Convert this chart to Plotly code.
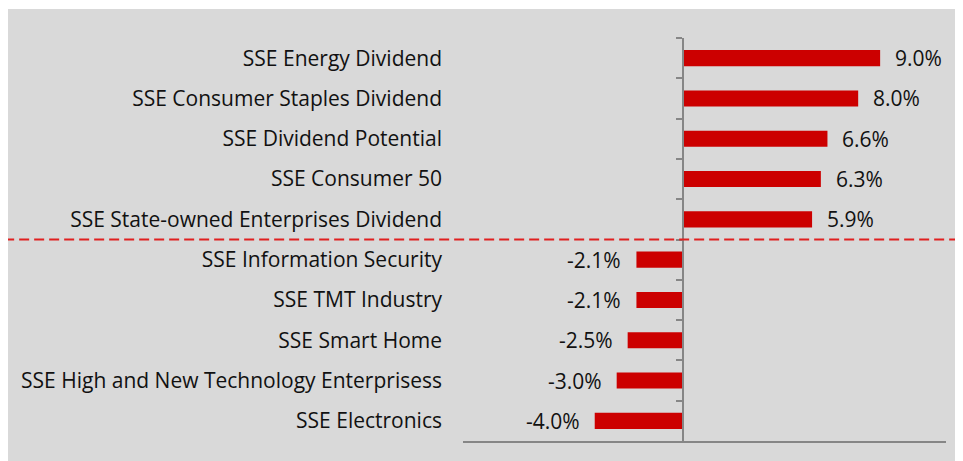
import plotly.graph_objects as go

indices = ["SSE Energy Dividend", "SSE Consumer Staples Dividend", "SSE Dividend Potential",
           "SSE Consumer 50", "SSE State-owned Enterprises Dividend", "SSE Information Security",
           "SSE TMT Industry", "SSE Smart Home", "SSE High and New Technology Enterprisess",
           "SSE Electronics"]
returns = [9.0, 8.0, 6.6, 6.3, 5.9, -2.1, -2.1, -2.5, -3.0, -4.0]

red = '#cc0000'
grey = '#868686'
font = dict(family='Open Sans', size=21, color='#111111')

fig = go.Figure()
fig.add_trace(go.Bar(x=returns, y=indices, orientation='h', width=0.4,
                     marker=dict(color=red, line=dict(width=0)), yaxis='y', showlegend=False))
# invisible trace so the second axis (category labels at the left edge) renders
fig.add_trace(go.Scatter(x=[0] * len(indices), y=indices, mode='markers', opacity=0,
                         yaxis='y2', showlegend=False, hoverinfo='skip'))

# value labels outside the bars
for name, v in zip(indices, returns):
    fig.add_annotation(x=v, y=name, text=f"{v:.1f}%", showarrow=False, font=font,
                       xanchor='left' if v > 0 else 'right', xshift=13 if v > 0 else -13)

# the red dashed separator between gainers and losers
fig.add_shape(type='line', xref='paper', yref='y', x0=-0.95, x1=1.06, y0=4.5, y1=4.5,
              line=dict(color='#e02020', width=2, dash='10px,5px'))
# grey panel background
fig.add_shape(type='rect', xref='paper', yref='paper', x0=-0.95, x1=1.06, y0=-0.08, y1=1.072,
              fillcolor='#d9d9d9', line=dict(width=0), layer='below')

fig.update_layout(
    width=963, height=461,
    margin=dict(l=455, r=25, t=30, b=28),
    paper_bgcolor='white', plot_bgcolor='rgba(0,0,0,0)',
    font=font,
    xaxis=dict(range=[-10, 12], showgrid=False, zeroline=False, showticklabels=False,
               showline=True, linecolor=grey, linewidth=1.5, ticks=''),
    yaxis=dict(type='category', categoryorder='array', categoryarray=indices,
               range=[9.5, -0.5], anchor='free', position=10 / 22, showline=True,
               linecolor=grey, linewidth=1.5, ticks='outside', tickson='boundaries',
               ticklen=6, tickcolor=grey, tickwidth=1.5, showticklabels=False, showgrid=False),
    yaxis2=dict(type='category', categoryorder='array', categoryarray=indices,
                range=[9.5, -0.5], overlaying='y', anchor='x', side='left', showline=False,
                ticks='', showgrid=False, ticklabelstandoff=20, tickfont=font),
)

fig.write_html("out.html")
